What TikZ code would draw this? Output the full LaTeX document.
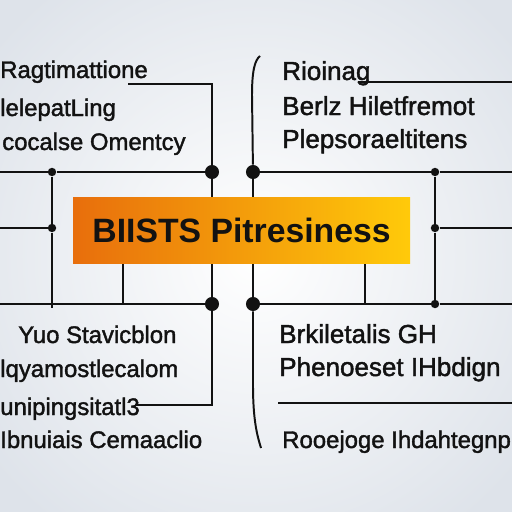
\documentclass[tikz,border=0pt]{standalone}
\usepackage{fontspec}
\setmainfont{Liberation Sans}
\newfontfamily\labelfont[FakeBold=1.6]{Liberation Sans}
\definecolor{bgedge}{RGB}{222,227,234}
\definecolor{boxorange}{RGB}{232,110,12}
\definecolor{boxyellow}{RGB}{255,202,10}
\definecolor{ink}{RGB}{18,18,18}
\begin{document}
\begin{tikzpicture}[x=0.025cm, y=-0.025cm,
    wire/.style={draw=ink, line width=1.4pt},
    bigdot/.style={circle, fill=ink, inner sep=0pt, minimum size=10pt},
    smalldot/.style={circle, fill=ink, inner sep=0pt, minimum size=6pt},
    label/.style={anchor=base west, inner sep=0pt, text=ink,
        font=\labelfont\fontsize{17}{20}\selectfont},
    rlabel/.style={label, font=\labelfont\fontsize{18.5}{22}\selectfont}]
    % Background
    \useasboundingbox (0,0) rectangle (512,512);
    \clip (0,0) rectangle (512,512);
    \shade[inner color=white, outer color=bgedge] (-80,-80) rectangle (592,592);

    % Junctions
    \node[bigdot] (lt) at (212,172) {};
    \node[bigdot] (lb) at (212,304) {};
    \node[bigdot] (rt) at (253,172) {};
    \node[bigdot] (rb) at (253,304) {};
    \node[smalldot] (lt2) at (52,172) {};
    \node[smalldot] (lm2) at (52,228) {};
    \node[smalldot] (rt2) at (435,172) {};
    \node[smalldot] (rm2) at (435,228) {};
    \node[smalldot] (rb2) at (435,304) {};

    % Free ends
    \coordinate (ltop) at (128,84);
    \coordinate (lbot) at (135,405);
    \coordinate (rtop) at (260,56);
    \coordinate (rbot) at (261,448);

    % Left side wiring
    \draw[wire] (lt) -- (lb);
    \draw[wire] (lt) |- (ltop);
    \draw[wire] (lb) |- (lbot);
    \draw[wire] (lt) -- (lt2) -- (0,172);
    \draw[wire] (lt2) -- (lm2) -- (52,308);
    \draw[wire] (lm2) -- (0,228);
    \draw[wire] (lb) -- (0,304);
    \draw[wire] (123,263) -- (123,304);

    % Right side wiring
    \draw[wire] (rt) -- (rb);
    \draw[wire] (rt) -- (252,95) .. controls (252,70) and (255,60) .. (rtop);
    \draw[wire] (rb) -- (253,385) .. controls (253,420) and (257,435) .. (rbot);
    \draw[wire] (rt) -- (rt2) -- (512,172);
    \draw[wire] (rt2) -- (rm2) -- (rb2);
    \draw[wire] (rm2) -- (512,228);
    \draw[wire] (rb) -- (rb2) -- (512,304);
    \draw[wire] (365,263) -- (365,304);
    \draw[wire] (358,82) -- (512,82);
    \draw[wire] (278,403) -- (512,403);

    % Title box
    \node[left color=boxorange, right color=boxyellow, minimum width=337*0.025cm,
        minimum height=66*0.025cm, inner sep=0pt,
        font=\fontsize{24}{28}\selectfont\bfseries, text=ink]
        (title) at (241.5,230) {BIISTS Pitresiness};

    % Labels, top
    \node[label] (t1) at (0,78) {Ragtimattione};
    \node[label] (t2) at (0,116) {lelepatLing};
    \node[label] (t3) at (2,150) {cocalse Omentcy};
    \node[rlabel] (t4) at (282,80) {Rioinag};
    \node[rlabel] (t5) at (282,115) {Berlz Hiletfremot};
    \node[rlabel] (t6) at (282,148) {Plepsoraeltitens};

    % Labels, bottom
    \node[label] (b1) at (18,343) {Yuo Stavicblon};
    \node[label] (b2) at (0,377) {lqyamostlecalom};
    \node[label] (b3) at (0,415) {unipingsitatl3};
    \node[label] (b4) at (0,448) {Ibnuiais Cemaaclio};
    \node[rlabel] (b5) at (279,343) {Brkiletalis GH};
    \node[rlabel] (b6) at (279,376) {Phenoeset IHbdign};
    \node[label] (b7) at (282,448) {Rooejoge Ihdahtegnp};
\end{tikzpicture}
\end{document}
